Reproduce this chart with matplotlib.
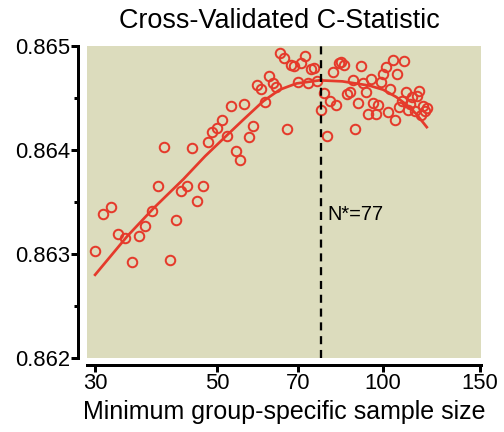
import matplotlib
matplotlib.use("Agg")
import matplotlib.pyplot as plt
import numpy as np
from matplotlib.ticker import FixedLocator, NullLocator, FixedFormatter, MultipleLocator

plt.rcParams['font.family'] = ['Liberation Sans', 'DejaVu Sans']

# minimum group-specific sample size (one point per integer)
sizes = np.arange(30, 121)
cstat = [
    0.863028, 0.863380, 0.863454, 0.863188, 0.863157, 0.862927, 0.863172, 0.863268,
    0.863418, 0.863651, 0.864029, 0.862946, 0.863326, 0.863610, 0.863651, 0.864019,
    0.863508, 0.863651, 0.864077, 0.864173, 0.864211, 0.864291, 0.864137, 0.864425,
    0.863987, 0.863901, 0.864441, 0.864121, 0.864233, 0.864626, 0.864585, 0.864457,
    0.864712, 0.864648, 0.864604, 0.864936, 0.864882, 0.864204, 0.864818, 0.864808,
    0.864658, 0.864834, 0.864907, 0.864642, 0.864777, 0.864789, 0.864665, 0.864387,
    0.864552, 0.864131, 0.864473, 0.864748, 0.864432, 0.864834, 0.864850, 0.864818,
    0.864537, 0.864562, 0.864674, 0.864202, 0.864451, 0.864808, 0.864642, 0.864556,
    0.864348, 0.864681, 0.864451, 0.864348, 0.864434, 0.864658, 0.864729, 0.864796,
    0.864361, 0.864585, 0.864866, 0.864284, 0.864729, 0.864409, 0.864473, 0.864856,
    0.864562, 0.864387, 0.864441, 0.864508, 0.864377, 0.864521, 0.864569, 0.864339,
    0.864425, 0.864377, 0.864406,
]

# smooth fitted curve
fit_x = [30, 34.3, 38.3, 43.4, 47.5, 52.0, 55.7, 60.6, 64.9, 69.6, 76.7, 84.3, 94.3, 100, 105.6, 110, 114.7, 120]
fit_y = [0.86280, 0.86317, 0.86344, 0.86372, 0.86394, 0.86414, 0.86429, 0.86447, 0.86458, 0.86464,
         0.86467, 0.86466, 0.86462, 0.86458, 0.86451, 0.86444, 0.86435, 0.86422]

n_star = 77
xticks = [30, 50, 70, 100, 150]
yticks = [0.862, 0.863, 0.864, 0.865]

red = '#e53a2b'

fig = plt.figure(figsize=(7, 6), dpi=72)
ax = fig.add_axes([0.1726, 0.1713, 0.7817, 0.7222])
ax.set_facecolor('#dcdcbd')

ax.plot(sizes, cstat, 'o', mfc='none', mec=red, ms=9.5, mew=2)
ax.plot(fit_x, fit_y, '-', color=red, lw=2.7, solid_joinstyle='round')
ax.axvline(n_star, color='black', lw=2.3, ls=(0, (3.5, 2.5)))
ax.text(79.3, 0.86338, 'N*=77', fontsize=20, ha='left', va='center')

ax.set_xscale('log')
ax.set_xlim(29.0, 150.5)
ax.set_ylim(0.862, 0.865)
ax.xaxis.set_major_locator(FixedLocator(xticks))
ax.xaxis.set_major_formatter(FixedFormatter([str(t) for t in xticks]))
ax.xaxis.set_minor_locator(NullLocator())
ax.yaxis.set_major_locator(FixedLocator(yticks))
ax.yaxis.set_minor_locator(MultipleLocator(0.0005))
ax.set_yticklabels(['%.3f' % t for t in yticks])

for s in ['top', 'right']:
    ax.spines[s].set_visible(False)
ax.spines['left'].set_position(('outward', 9))
ax.spines['bottom'].set_position(('outward', 7))
ax.spines['left'].set_linewidth(3)
ax.spines['bottom'].set_linewidth(3)
ax.tick_params(axis='both', which='major', length=7, width=3, labelsize=22, pad=1)
ax.tick_params(axis='y', which='minor', length=4, width=3)

ax.set_xlabel('Minimum group-specific sample size', fontsize=25, labelpad=6)
fig.text(279 / 504, 1 - 21 / 432, 'Cross-Validated C-Statistic', fontsize=27,
         ha='center', va='center')

fig.savefig('out.png', dpi=72)
